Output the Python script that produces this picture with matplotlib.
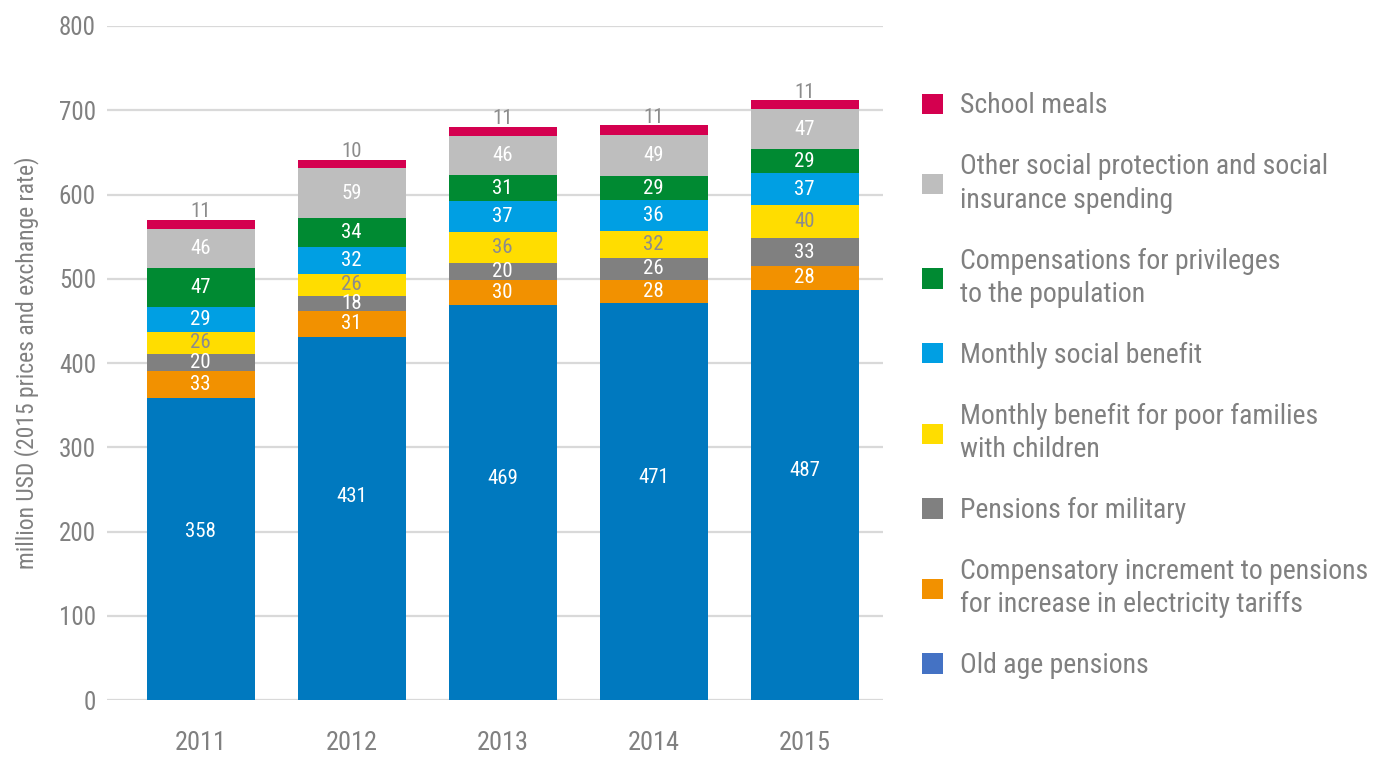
import matplotlib
matplotlib.use("Agg")
from matplotlib import pyplot as plt
from matplotlib import font_manager
from matplotlib.patches import Patch
import numpy as np

years = ["2011", "2012", "2013", "2014", "2015"]

old_age = [358, 431, 469, 471, 487]
electricity = [33, 31, 30, 28, 28]
military = [20, 18, 20, 26, 33]
poor_families = [26, 26, 36, 32, 40]
social_benefit = [29, 32, 37, 36, 37]
privileges = [47, 34, 31, 29, 29]
other_social = [46, 59, 46, 49, 47]
school_meals = [11, 10, 11, 11, 11]

series_names = [
    "Old age pensions",
    "Compensatory increment to pensions\nfor increase in electricity tariffs",
    "Pensions for military",
    "Monthly benefit for poor families\nwith children",
    "Monthly social benefit",
    "Compensations for privileges\nto the population",
    "Other social protection and social\ninsurance spending",
    "School meals",
]
series_values = [old_age, electricity, military, poor_families,
                 social_benefit, privileges, other_social, school_meals]
bar_colors = ["#0079BF", "#F29100", "#808080", "#FFDD00",
              "#009FE3", "#008A32", "#BEBEBE", "#D4004F"]
legend_colors = ["#4472C4"] + bar_colors[1:]
label_colors = ["white", "white", "white", "#8C8C8C",
                "white", "white", "white", "#8C8C8C"]

# pick a narrow font if one is installed
installed = {f.name for f in font_manager.fontManager.ttflist}
narrow = "DejaVu Sans"
for name in ["Roboto Condensed", "Liberation Sans Narrow", "Roboto", "Liberation Sans"]:
    if name in installed:
        narrow = name
        break

grey_text = "#808080"

fig = plt.figure(figsize=(13.74, 7.58), dpi=100)
ax = fig.add_axes([0.0779, 0.0765, 0.5648, 0.8892])

x = np.arange(len(years))
bottom = np.zeros(len(years))
for i, vals in enumerate(series_values):
    vals = np.array(vals, dtype=float)
    ax.bar(x, vals, 0.715, bottom=bottom, color=bar_colors[i], zorder=3)
    for xi, b, v in zip(x, bottom, vals):
        if i == len(series_values) - 1:
            ax.annotate(f"{int(v)}", (xi, b + v), xytext=(0, -1),
                        textcoords="offset points", ha="center", va="bottom",
                        color=label_colors[i], fontsize=15, family=narrow, zorder=4)
        else:
            # the big bottom segment has its label a bit above the middle
            frac = 0.56 if i == 0 else 0.5
            ax.text(xi, b + v * frac, f"{int(v)}", ha="center", va="center",
                    color=label_colors[i], fontsize=15, family=narrow, zorder=4)
    bottom += vals

ax.set_xlim(-0.62, 4.52)
ax.set_ylim(0, 800)
ax.set_yticks(range(0, 801, 100))
ax.yaxis.grid(True, color="#D9D9D9", linewidth=1.6, zorder=0)
ax.set_axisbelow(True)
for s in ax.spines.values():
    s.set_visible(False)
ax.tick_params(axis="both", length=0)
ax.tick_params(axis="y", pad=8)
ax.tick_params(axis="x", pad=22)
ax.set_xticks(x)
ax.set_xticklabels(years, fontsize=19, family=narrow, color=grey_text)
for t in ax.get_yticklabels():
    t.set_fontsize(18)
    t.set_family(narrow)
    t.set_color(grey_text)
ax.set_ylabel("million USD (2015 prices and exchange rate)", fontsize=17,
              family=narrow, color=grey_text, labelpad=14)

handles = [Patch(facecolor=c) for c in legend_colors][::-1]
labels = series_names[::-1]
leg = fig.legend(handles, labels, loc="upper left", bbox_to_anchor=(0.653, 0.911),
                 frameon=False, handlelength=0.75, handleheight=0.75,
                 handletextpad=0.6, labelspacing=1.22,
                 prop={"family": narrow, "size": 20})
for t in leg.get_texts():
    t.set_color(grey_text)
    t.set_linespacing(1.3)

fig.savefig("out.png", dpi=100)
